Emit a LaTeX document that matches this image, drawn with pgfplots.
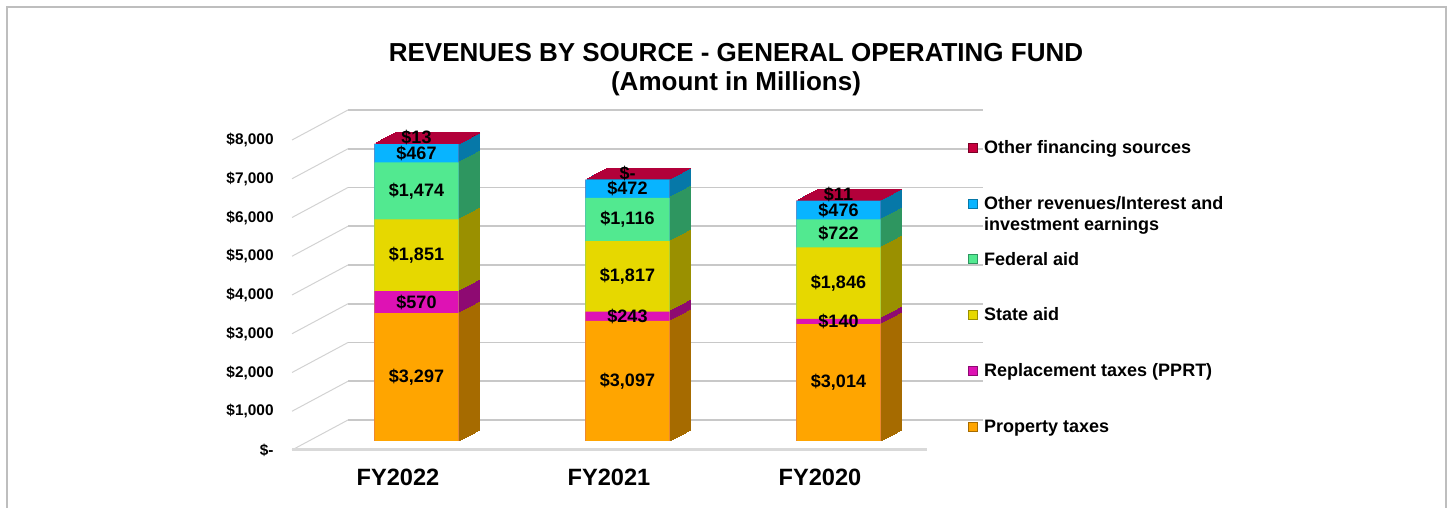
\documentclass[border=0pt]{standalone}
\usepackage{pgfplots}
\usepackage{pgfplotstable}
\pgfplotsset{compat=1.18}
\usepackage{fontspec}
\setmainfont{Liberation Sans}
\definecolor{ptF}{HTML}{FFA500}
\definecolor{ptS}{HTML}{A66B00}
\definecolor{prF}{HTML}{DE12B4}
\definecolor{prS}{HTML}{8E0A72}
\definecolor{stF}{HTML}{E6D800}
\definecolor{stS}{HTML}{9A9000}
\definecolor{feF}{HTML}{52E990}
\definecolor{feS}{HTML}{2E9660}
\definecolor{orF}{HTML}{08B4FF}
\definecolor{orS}{HTML}{0678A8}
\definecolor{fiF}{HTML}{C8003E}
\definecolor{fiS}{HTML}{7A0026}
\definecolor{fiT}{HTML}{B2003A}
\definecolor{gridc}{HTML}{C8C8C8}
\definecolor{framec}{HTML}{BEBEBE}

\pgfplotstableread{
x pt pprt state fed orev fin
0 3297 570 1851 1474 467 13
1 3097 243 1817 1116 472 0
2 3014 140 1846 722 476 11
}\revtable
\pgfplotstablecreatecol[expr={\thisrow{pt}+\thisrow{pprt}}]{c2}\revtable
\pgfplotstablecreatecol[expr={\thisrow{c2}+\thisrow{state}}]{c3}\revtable
\pgfplotstablecreatecol[expr={\thisrow{c3}+\thisrow{fed}}]{c4}\revtable
\pgfplotstablecreatecol[expr={\thisrow{c4}+\thisrow{orev}}]{c5}\revtable
\pgfplotstablecreatecol[expr={\thisrow{c5}+\thisrow{fin}}]{c6}\revtable
\pgfplotstablecreatecol[expr={\thisrow{pt}/2}]{m1}\revtable
\pgfplotstablecreatecol[expr={\thisrow{pt}+\thisrow{pprt}/2}]{m2}\revtable
\pgfplotstablecreatecol[expr={\thisrow{c2}+\thisrow{state}/2}]{m3}\revtable
\pgfplotstablecreatecol[expr={\thisrow{c3}+\thisrow{fed}/2}]{m4}\revtable
\pgfplotstablecreatecol[expr={\thisrow{c4}+\thisrow{orev}/2}]{m5}\revtable
\pgfplotstablecreatecol[expr={\thisrow{c5}+\thisrow{fin}/2}]{m6}\revtable

\pgfplotsset{
  barax/.style={
    scale only axis, width=316.5pt, height=174.375pt,
    xmin=-0.5, xmax=2.5, ymin=0, ymax=9000,
    anchor=south west,
    axis line style={draw=none}, tick style={draw=none},
    xtick=\empty, ytick=\empty, clip=false,
  },
  seg/.style={ybar, bar width=0.4, bar shift=0pt, draw=none, fill=#1, forget plot},
  sseg/.style={ybar, bar width=0.4, bar shift=0pt, draw=#1, line width=0.45pt, fill=#1, forget plot},
  labplot/.style={only marks, mark=*, mark size=0pt, mark options={draw=none,fill=none},
    point meta=explicit, forget plot,
    nodes near coords={\pgfmathfloatifflags{\pgfplotspointmeta}{0}{\$-}{\$\pgfmathprintnumber{\pgfplotspointmeta}}},
    every node near coord/.append style={font=\fontsize{9}{9}\bfseries, anchor=center, inner sep=0pt, text=black}},
}

\begin{document}
\begin{tikzpicture}
\path[use as bounding box] (0,0) rectangle (725pt,254pt);
% frame
\draw[framec, line width=0.75pt] (3.5pt,-2pt) -- (3.5pt,250.5pt) -- (723pt,250.5pt) -- (723pt,-2pt);
% title
\node[align=center, font=\fontsize{13}{14.5}\selectfont\bfseries] at (368pt,219.25pt)
  {REVENUES BY SOURCE - GENERAL OPERATING FUND\\(Amount in Millions)};
% side wall lines
\foreach \v in {0,...,8}{
  \draw[gray!35, line width=0.5pt] ({146pt},{29pt+19.375pt*\v}) -- ({174pt},{44pt+19.375pt*\v});
}
% floor front edge
\draw[black!15, line width=1.5pt] (146pt,29pt) -- (463.5pt,29pt);

% back wall grid
\begin{axis}[scale only axis, width=317.5pt, height=174.375pt, at={(174pt,44pt)}, anchor=south west,
  xmin=0, xmax=1, ymin=0, ymax=9000, axis line style={draw=none}, tick style={draw=none},
  xtick=\empty, ytick={0,1000,...,8000}, yticklabels={}, ymajorgrids,
  major grid style={gridc, line width=0.9pt}]
\addplot[draw=none, forget plot] coordinates {(0,0)};
\end{axis}

% depth sweep (side and top faces)
\foreach \k in {11,10,...,1}{
\begin{axis}[barax, at={({155.5pt+0.9545pt*\k},{33.5pt+0.5pt*\k})}]
  \addplot[sseg=fiS] table[x=x,y=c6]{\revtable};
  \addplot[sseg=orS] table[x=x,y=c5]{\revtable};
  \addplot[sseg=feS] table[x=x,y=c4]{\revtable};
  \addplot[sseg=stS] table[x=x,y=c3]{\revtable};
  \addplot[sseg=prS] table[x=x,y=c2]{\revtable};
  \addplot[sseg=ptS] table[x=x,y=pt]{\revtable};
  \addplot[only marks, mark=-, mark size=21.3pt, mark options={fiT, line width=0.8pt}, forget plot]
     table[x=x,y=c6]{\revtable};
\end{axis}
}

% front faces, labels, ticks, legend
\begin{axis}[barax, at={(155.5pt,33.5pt)},
  /pgf/number format/assume math mode=true,
  xtick={0,1,2}, xticklabels={FY2022,FY2021,FY2020},
  xticklabel style={font=\fontsize{11.8}{12}\selectfont\bfseries, anchor=center, inner sep=0pt, xshift=-9.25pt, yshift=-18.25pt},
  ytick={0,1000,...,8000},
  yticklabels={{\$-\hspace{4.5pt}},{\$1,000},{\$2,000},{\$3,000},{\$4,000},{\$5,000},{\$6,000},{\$7,000},{\$8,000}},
  yticklabel style={font=\fontsize{7.7}{9}\selectfont\bfseries, anchor=east, inner sep=0pt, xshift=-18.5pt, yshift=-4.5pt},
  legend style={at={(1.0379,0.8668)}, anchor=north west, draw=none, fill=none, inner sep=0pt,
    row sep=19pt, column sep=3pt, font=\fontsize{9}{10.5}\selectfont\bfseries, nodes={inner sep=0pt}},
  legend cell align=left,
  legend image code/.code={\draw[#1] (0pt,-2.25pt) rectangle (4.5pt,2.25pt);},
]
  \addplot[seg=fiF] table[x=x,y=c6]{\revtable};
  \addplot[seg=orF] table[x=x,y=c5]{\revtable};
  \addplot[seg=feF] table[x=x,y=c4]{\revtable};
  \addplot[seg=stF] table[x=x,y=c3]{\revtable};
  \addplot[seg=prF] table[x=x,y=c2]{\revtable};
  \addplot[seg=ptF] table[x=x,y=pt]{\revtable};
  \addplot[labplot] table[x=x,y=m1,meta=pt]{\revtable};
  \addplot[labplot] table[x=x,y=m2,meta=pprt]{\revtable};
  \addplot[labplot] table[x=x,y=m3,meta=state]{\revtable};
  \addplot[labplot] table[x=x,y=m4,meta=fed]{\revtable};
  \addplot[labplot] table[x=x,y=m5,meta=orev]{\revtable};
  \addplot[labplot, every node near coord/.append style={yshift=3pt}] table[x=x,y=m6,meta=fin]{\revtable};
  \addlegendimage{fill=fiF, draw=fiS, line width=0.4pt}
  \addlegendentry{\strut Other financing sources}
  \addlegendimage{fill=orF, draw=orS, line width=0.4pt}
  \addlegendentry{\raisebox{0pt}[\height][\dp\strutbox]{\begin{tabular}[t]{@{}l@{}}\strut Other revenues/Interest and\\investment earnings\end{tabular}}}
  \addlegendimage{fill=feF, draw=feS, line width=0.4pt}
  \addlegendentry{\strut Federal aid}
  \addlegendimage{fill=stF, draw=stS, line width=0.4pt}
  \addlegendentry{\strut State aid}
  \addlegendimage{fill=prF, draw=prS, line width=0.4pt}
  \addlegendentry{\strut Replacement taxes (PPRT)}
  \addlegendimage{fill=ptF, draw=ptS, line width=0.4pt}
  \addlegendentry{\strut Property taxes}
\end{axis}
\end{tikzpicture}
\end{document}
